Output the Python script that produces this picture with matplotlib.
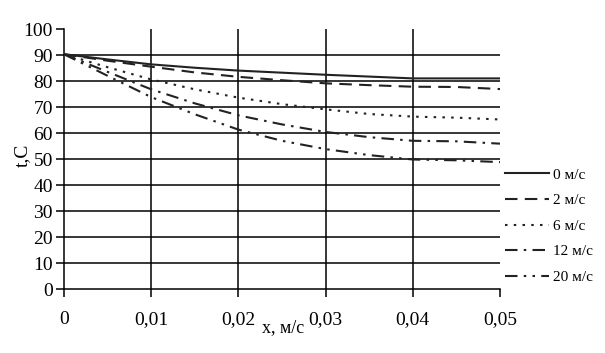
import matplotlib
matplotlib.use("Agg")
import matplotlib.pyplot as plt

plt.rcParams['font.family'] = ['Liberation Serif', 'DejaVu Serif']

# distance, m
x = [0, 0.005, 0.01, 0.015, 0.02, 0.025, 0.03, 0.035, 0.04, 0.045, 0.05]

# temperature for each air speed
t_0 = [90.3, 88.3, 86.4, 85.1, 84.0, 83.2, 82.4, 81.7, 81.0, 81.0, 81.0]
t_2 = [90.3, 87.8, 85.5, 83.3, 81.6, 80.3, 79.1, 78.4, 77.8, 77.7, 76.9]
t_6 = [90.3, 85.3, 80.6, 76.8, 73.6, 71.1, 69.1, 67.3, 66.3, 65.9, 65.2]
t_12 = [90.3, 83.5, 76.8, 71.4, 66.8, 63.3, 60.4, 58.4, 57.0, 56.8, 55.9]
t_20 = [90.3, 82.0, 73.8, 67.2, 61.3, 57.0, 53.8, 51.5, 49.8, 49.5, 48.8]

labels = ['0 м/с', '2 м/с', '6 м/с', '12 м/с', '20 м/с']
series = [t_0, t_2, t_6, t_12, t_20]
dashes = [None, (6, 3.5), (1.2, 3), (6, 3, 1.2, 3), (6, 3, 1.2, 3, 1.2, 3)]

fig = plt.figure(figsize=(6.05, 3.53), dpi=100)
ax = fig.add_axes([64 / 605, 1 - 289 / 353, 436 / 605, 260 / 353])

# grid drawn by hand so that the 100 line and 0/0.05 verticals are absent
for v in range(10, 100, 10):
    ax.axhline(v, color='black', lw=1.1, zorder=1)
for xv in [0.01, 0.02, 0.03, 0.04]:
    ax.axvline(xv, color='black', lw=1.1, zorder=1)

for y, lab, d in zip(series, labels, dashes):
    line, = ax.plot(x, y, color='#222222', lw=1.5, label=lab, zorder=3)
    if d is not None:
        line.set_dashes(d)

ax.set_xlim(0, 0.05)
ax.set_ylim(0, 100)
ax.set_xticks([0, 0.01, 0.02, 0.03, 0.04, 0.05])
ax.set_xticklabels(['0', '0,01', '0,02', '0,03', '0,04', '0,05'])
ax.set_yticks(range(0, 101, 10))
ax.tick_params(axis='both', labelsize=14, length=6, width=1.1, color='black')
ax.tick_params(axis='x', pad=10)
ax.tick_params(axis='y', pad=2)
for s in ['top', 'right']:
    ax.spines[s].set_visible(False)
for s in ['left', 'bottom']:
    ax.spines[s].set_linewidth(1.1)

fig.text(283 / 605, 1 - 328 / 353, 'x, м/с', fontsize=13, ha='center', va='center')
fig.text(22 / 605, 1 - 155 / 353, 't,C', fontsize=14, ha='center', va='center',
         rotation=90)

fig.legend(loc='center left', bbox_to_anchor=(497 / 605, 1 - 226 / 353),
           frameon=False, fontsize=11, handlelength=2.9, handletextpad=0.25,
           labelspacing=0.78, borderpad=0)

fig.savefig('out.png', dpi=100)
